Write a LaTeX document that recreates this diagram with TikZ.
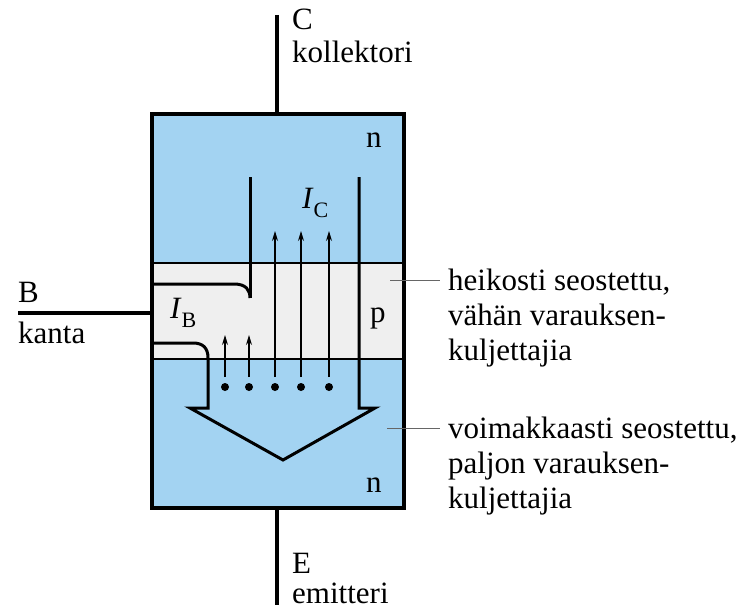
\documentclass[tikz,border=0pt]{standalone}
\usepackage{fontspec}
\setmainfont{Liberation Serif}
\usetikzlibrary{arrows.meta}
\definecolor{nblue}{RGB}{163,211,242}
\definecolor{pgray}{RGB}{239,239,239}
\newcommand{\sublbl}[2]{\textit{#1}\raisebox{-0.32em}{\fontsize{22}{22}\selectfont #2}}
\begin{document}
\begin{tikzpicture}[x=1pt,y=-1pt,
  lbl/.style={font=\fontsize{31}{35}\selectfont, inner sep=0pt, anchor=base west, align=left},
  lead/.style={line width=4pt},
  wall/.style={line width=3pt, line join=miter},
  border/.style={line width=1.6pt},
  flow/.style={line width=1.1pt, -{Stealth[length=10pt,width=6pt]}},
  carrier/.style={circle, fill=black, inner sep=0pt, minimum size=8pt},
  leader/.style={line width=0.9pt, black!60}]
\useasboundingbox (0,0) rectangle (744,610);

% transistor body: n - p - n layers
\fill[nblue] (152,114) rectangle (404,508);
\fill[pgray] (152,263) rectangle (404,359);
\draw[border] (152,263) -- (404,263);
\draw[border] (152,359) -- (404,359);
\draw[line width=3.5pt] (152,114) rectangle (404,508);

% terminals
\coordinate (cTop) at (277,15);
\coordinate (cBox) at (277,114);
\coordinate (eBox) at (277,508);
\coordinate (eEnd) at (277,605);
\coordinate (bEnd) at (18,313);
\coordinate (bBox) at (152,313);
\draw[lead] (cTop) -- (cBox);
\draw[lead] (eBox) -- (eEnd);
\draw[lead] (bEnd) -- (bBox);

% current channel walls and big emitter arrow
\draw[wall] (250,177) -- (250,298);
\draw[wall] (152,284) -- (234,284) .. controls (246,284) and (250,290) .. (250,298);
\draw[wall] (152,343) -- (193,343) .. controls (203,343) and (208,348) .. (208,358)
  -- (208,408) -- (190,408) -- (283,460) -- (375,408) -- (359,408) -- (359,177);

% carriers and current arrows
\node[carrier] (d1) at (225,387) {};
\node[carrier] (d2) at (249,387) {};
\node[carrier] (d3) at (275,387) {};
\node[carrier] (d4) at (301,387) {};
\node[carrier] (d5) at (329,387) {};
\coordinate (t1) at (225,335);
\coordinate (t2) at (249,335);
\coordinate (t3) at (275,231);
\coordinate (t4) at (301,231);
\coordinate (t5) at (329,231);
\draw[flow] ([yshift=10pt]d1.center) -- (t1);
\draw[flow] ([yshift=10pt]d2.center) -- (t2);
\draw[flow] ([yshift=10pt]d3.center) -- (t3);
\draw[flow] ([yshift=10pt]d4.center) -- (t4);
\draw[flow] ([yshift=10pt]d5.center) -- (t5);

% region and current labels
\node[lbl] (nTop) at (366,147) {n};
\node[lbl] (nBot) at (366,492) {n};
\node[lbl] (pLbl) at (370,322) {p};
\node[lbl] (IC) at (302,208) {\sublbl{I}{C}};
\node[lbl] (IB) at (170,318) {\sublbl{I}{B}};

% terminal names
\node[lbl] (C) at (292,30) {C};
\node[lbl] (kollektori) at (292,63) {kollektori};
\node[lbl] (E) at (292,573) {E};
\node[lbl] (emitteri) at (292,603) {emitteri};
\node[lbl] (B) at (18,302) {B};
\node[lbl] (kanta) at (18,343) {kanta};

% annotations (anchor is the baseline of the last line)
\coordinate (pPt) at (390,280);
\coordinate (pEnd) at (440,280);
\coordinate (nPt) at (387,428);
\coordinate (nEnd) at (440,428);
\node[lbl] (pNote) at (448,360) {heikosti seostettu,\\vähän varauksen-\\kuljettajia};
\node[lbl] (nNote) at (448,508) {voimakkaasti seostettu,\\paljon varauksen-\\kuljettajia};
\draw[leader] (pPt) -- (pEnd);
\draw[leader] (nPt) -- (nEnd);
\end{tikzpicture}
\end{document}
